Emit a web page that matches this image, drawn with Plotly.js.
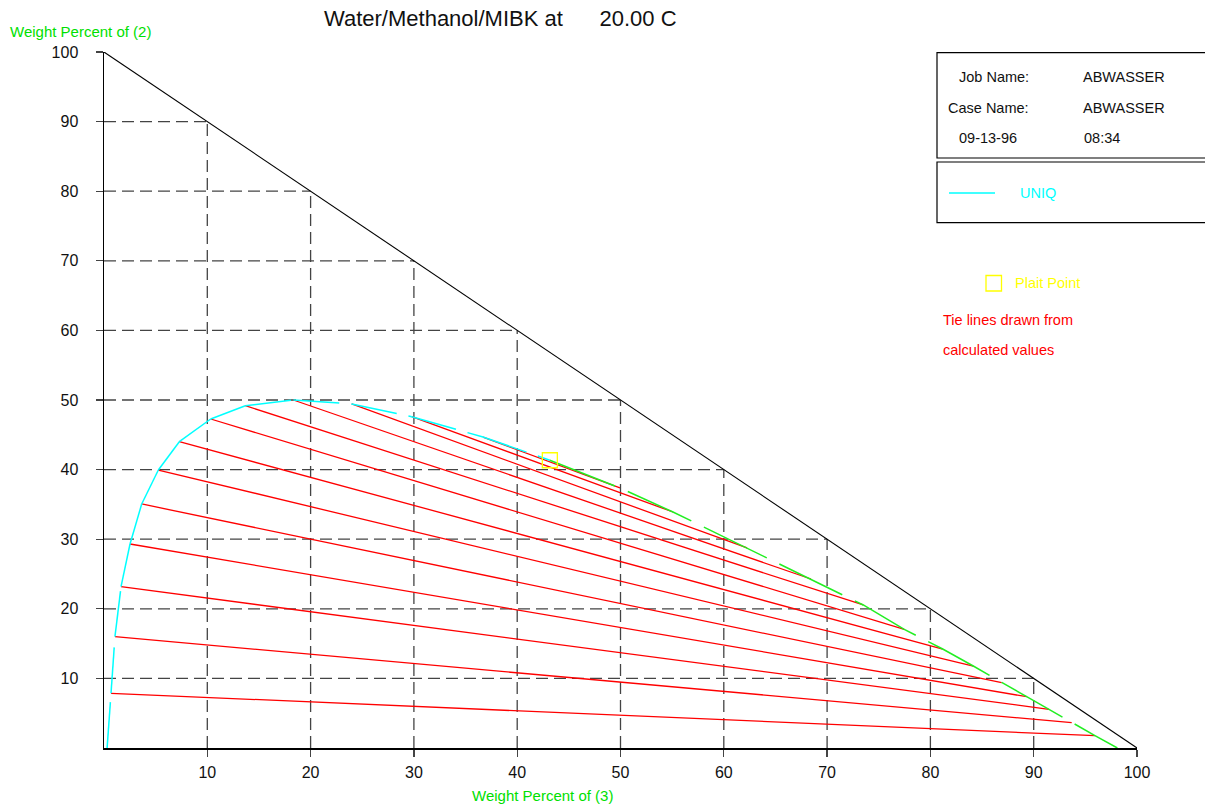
<!DOCTYPE html>
<html>
<head>
<meta charset="utf-8">
<script src="https://cdn.plot.ly/plotly-3.0.1.min.js"></script>
<style>
html,body{margin:0;padding:0;background:#ffffff;}
#chart{width:1205px;height:807px;}
</style>
</head>
<body>
<div id="chart"></div>
<script>
// ---------------- data ----------------
const tickVals   = [10, 20, 30, 40, 50, 60, 70, 80, 90, 100];
const tickText   = ['10', '20', '30', '40', '50', '60', '70', '80', '90', '100'];
const gridVals   = [10, 20, 30, 40, 50, 60, 70, 80, 90];

// tie lines: raffinate end (left) and extract end (right); x = wt% (3), y = wt% (2)
const tieRaffX = [0.68, 1.06, 1.65, 2.52, 3.65, 5.26, 7.29, 10.33, 13.68, 18.33, 23.98, 29.79, 36.69];
const tieRaffY = [7.86, 15.99, 23.18, 29.31, 35.06, 39.94, 44.01, 47.27, 49.18, 50.00, 49.43, 47.60, 44.68];
const tieExtrX = [95.93, 93.68, 91.48, 89.32, 86.90, 84.15, 81.19, 77.47, 73.50, 68.44, 62.25, 55.08, 49.95];
const tieExtrY = [1.77, 3.64, 5.56, 7.37, 9.38, 11.78, 14.22, 17.05, 20.55, 24.28, 28.74, 33.91, 37.36];

// plait point
const plaitX = [43.16];
const plaitY = [41.34];

// binodal curve, raffinate branch (cyan) and extract branch (green)
const binRaffX = [0.30, 0.68, 1.06, 1.65, 2.52, 3.65, 5.26, 7.29, 10.33, 13.68, 18.33, 23.98, 29.79, 36.69, 43.16];
const binRaffY = [0.00, 7.86, 15.99, 23.18, 29.31, 35.06, 39.94, 44.01, 47.27, 49.18, 50.00, 49.43, 47.60, 44.68, 41.34];
const binExtrX = [43.16, 49.95, 55.08, 62.25, 68.44, 73.50, 77.47, 81.19, 84.15, 86.90, 89.32, 91.48, 93.68, 95.93, 98.10];
const binExtrY = [41.34, 37.36, 33.91, 28.74, 24.28, 20.55, 17.05, 14.22, 11.78, 9.38, 7.37, 5.56, 3.64, 1.77, 0.00];

// triangle hypotenuse
const hypX = [0, 100];
const hypY = [100, 0];

// ---------------- build helpers ----------------
const tieX = [], tieY = [];
tieRaffX.forEach((x, i) => { tieX.push(x, tieExtrX[i], null); tieY.push(tieRaffY[i], tieExtrY[i], null); });

// cyan branch drawn segment by segment so the dash pattern restarts at each vertex
const cyX = [], cyY = [];
for (let i = 0; i < binRaffX.length - 1; i++) {
  cyX.push(binRaffX[i], binRaffX[i + 1], null);
  cyY.push(binRaffY[i], binRaffY[i + 1], null);
}

const gX = [], gY = [];
gridVals.forEach(v => {
  gX.push(0, 100 - v, null); gY.push(v, v, null);      // horizontal
  gX.push(v, v, null);       gY.push(0, 100 - v, null); // vertical
});

// ---------------- pixel helpers for page decorations ----------------
const L = 104, R = 1137, T = 52, B = 748;
const px = p => (p - L) / (R - L);
const py = p => (B - p) / (B - T);

const FONT = 'Liberation Sans, Arial, sans-serif';
const GREEN = '#00e000';

const traces = [
  { x: gX, y: gY, mode: 'lines', line: { color: '#444444', width: 1.3, dash: '12px,6px' }, hoverinfo: 'skip' },
  { x: hypX, y: hypY, mode: 'lines', line: { color: '#000000', width: 1.1 }, hoverinfo: 'skip' },
  { x: tieX, y: tieY, mode: 'lines', line: { color: '#ff0000', width: 1.3 }, hoverinfo: 'skip' },
  { x: cyX, y: cyY, mode: 'lines', connectgaps: false, line: { color: '#00ffff', width: 1.5, dash: '46px,12px' }, hoverinfo: 'skip' },
  { x: binExtrX, y: binExtrY, mode: 'lines', line: { color: '#22ee22', width: 1.5, dash: '70px,14px' }, hoverinfo: 'skip' },
  { x: plaitX, y: plaitY, mode: 'markers', cliponaxis: false,
    marker: { symbol: 'square-open', size: 15, color: '#ffff00', line: { color: '#ffff00', width: 1.3 } }, hoverinfo: 'skip' }
];

function ann(text, x, y, color, size) {
  return { text: text, xref: 'paper', yref: 'paper', x: px(x), y: py(y), xanchor: 'left', yanchor: 'middle',
           showarrow: false, borderpad: 0, font: { family: FONT, size: size || 14.5, color: color || '#111111' } };
}

const layout = {
  width: 1205, height: 807, autosize: false,
  margin: { l: L, r: 1205 - R, t: T, b: 807 - B, pad: 0 },
  paper_bgcolor: '#ffffff', plot_bgcolor: '#ffffff',
  showlegend: false,
  title: { text: 'Water/Methanol/MIBK at\u00a0\u00a0\u00a0\u00a0\u00a0\u00a020.00 C',
           xref: 'paper', x: px(324), xanchor: 'left', yref: 'container', y: 1 - 18 / 807, yanchor: 'middle',
           font: { family: FONT, size: 22, color: '#111111' } },
  xaxis: { range: [0, 100], tickvals: tickVals, ticktext: tickText, showgrid: false, zeroline: false,
           showline: true, linecolor: '#000000', linewidth: 1.5, ticks: 'outside', ticklen: 7, tickwidth: 1.2,
           tickcolor: '#444444', ticklabelstandoff: 2, tickfont: { family: FONT, size: 16, color: '#111111' }, fixedrange: true },
  yaxis: { range: [0, 100], tickvals: tickVals, ticktext: tickText, showgrid: false, zeroline: false,
           showline: true, linecolor: '#000000', linewidth: 1.5, ticks: 'outside', ticklen: 7, tickwidth: 1.2,
           tickcolor: '#444444', ticklabelstandoff: 14, tickfont: { family: FONT, size: 16, color: '#111111' }, fixedrange: true },
  shapes: [
    { type: 'rect', xref: 'paper', yref: 'paper', x0: px(937), x1: px(1220), y0: py(52.7), y1: py(158), line: { color: '#000000', width: 1.2 } },
    { type: 'rect', xref: 'paper', yref: 'paper', x0: px(937), x1: px(1220), y0: py(162), y1: py(222.7), line: { color: '#000000', width: 1.2 } },
    { type: 'line', xref: 'paper', yref: 'paper', x0: px(949), x1: px(995), y0: py(193), y1: py(193), line: { color: '#00ffff', width: 1.5 } },
    { type: 'rect', xref: 'paper', yref: 'paper', x0: px(986), x1: px(1001.5), y0: py(275.5), y1: py(291), line: { color: '#ffff00', width: 1.3 } }
  ],
  annotations: [
    ann('Weight Percent of (2)', 9, 32, GREEN, 15),
    ann('Weight Percent of (3)', 471, 795, GREEN, 15),
    ann('Job Name:', 958, 77),
    ann('ABWASSER', 1082, 77),
    ann('Case Name:', 947, 107.5),
    ann('ABWASSER', 1082, 107.5),
    ann('09-13-96', 958, 138),
    ann('08:34', 1083, 138),
    ann('UNIQ', 1019, 193, '#00ffff'),
    ann('Plait Point', 1014, 283, '#ffff00'),
    ann('Tie lines drawn from', 942, 319.5, '#ff0000'),
    ann('calculated values', 942, 349.5, '#ff0000')
  ]
};

Plotly.newPlot('chart', traces, layout, { displayModeBar: false, staticPlot: true });
</script>
</body>
</html>
